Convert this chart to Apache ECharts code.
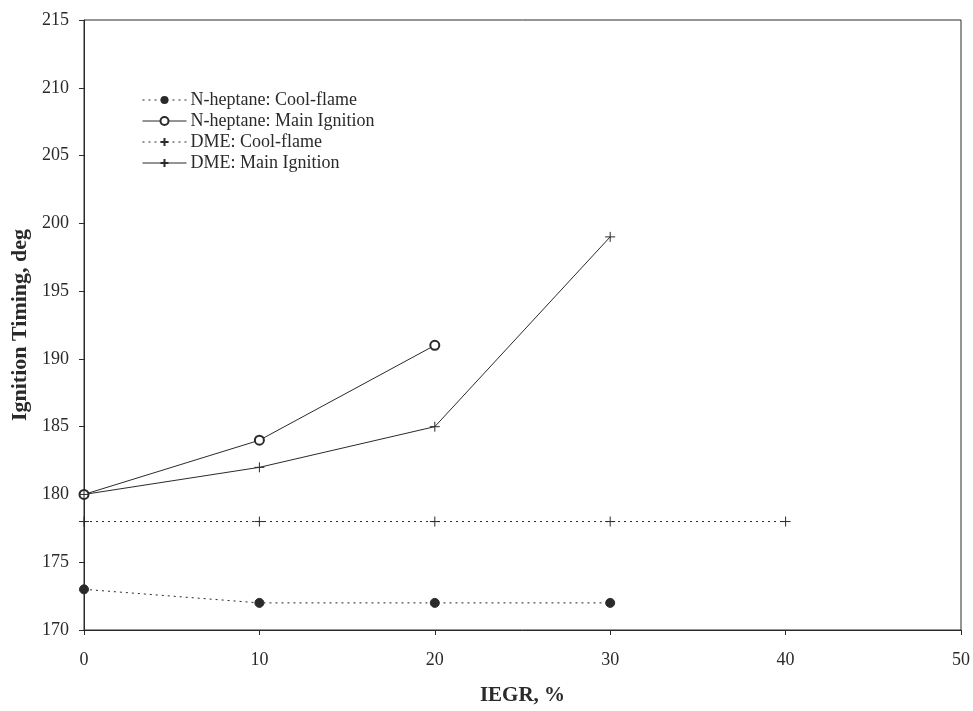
<!DOCTYPE html>
<html><head><meta charset="utf-8">
<script src="https://cdn.jsdelivr.net/npm/echarts@6/dist/echarts.min.js"></script>
<style>html,body{margin:0;padding:0;background:#fff}#c{width:973px;height:711px}</style>
</head><body><div id="c"></div>
<script>
const xTicks = [0, 10, 20, 30, 40, 50];
const nhCoolX = [0, 10, 20, 30];
const nhCoolY = [173, 172, 172, 172];
const nhMainX = [0, 10, 20];
const nhMainY = [180, 184, 191];
const dmeCoolX = [0, 10, 20, 30, 40];
const dmeCoolY = [178, 178, 178, 178, 178];
const dmeMainX = [0, 10, 20, 30];
const dmeMainY = [180, 182, 185, 199];
const names = ['N-heptane: Cool-flame', 'N-heptane: Main Ignition', 'DME: Cool-flame', 'DME: Main Ignition'];

const pair = (xs, ys) => xs.map((x, i) => [x, ys[i]]);
const ink = '#2a2a2a';
const font = 'Liberation Serif';
const cross = 'path://M0,5 L10,5 M5,0 L5,10';

const chart = echarts.init(document.getElementById('c'));
chart.setOption({
  backgroundColor: '#fff',
  animation: false,
  grid: { left: 84, right: 10, top: 20, bottom: 80, show: true, borderColor: ink, borderWidth: 1 },
  legend: {
    left: 137, top: 86, orient: 'vertical', itemGap: 3, itemWidth: 44, itemHeight: 10,
    lineStyle: { width: 1 },
    textStyle: { fontFamily: font, fontSize: 18, color: ink, padding: [0, 0, 0, -1] },
    data: names
  },
  xAxis: {
    type: 'value', min: 0, max: 50, interval: 10,
    name: 'IEGR, %', nameLocation: 'middle', nameGap: 55,
    nameTextStyle: { fontFamily: font, fontSize: 21, fontWeight: 'bold', color: ink },
    axisLine: { lineStyle: { color: ink } },
    axisTick: { show: true, inside: false, length: 5, lineStyle: { color: ink } },
    axisLabel: { fontFamily: font, fontSize: 18, color: ink, margin: 21 },
    splitLine: { show: false }
  },
  yAxis: {
    type: 'value', min: 170, max: 215, interval: 5,
    name: 'Ignition Timing, deg', nameLocation: 'middle', nameGap: 52,
    nameTextStyle: { fontFamily: font, fontSize: 22, fontWeight: 'bold', color: ink },
    axisLine: { lineStyle: { color: ink } },
    axisTick: { show: true, inside: false, length: 5, lineStyle: { color: ink } },
    axisLabel: { fontFamily: font, fontSize: 18, color: ink, margin: 15 },
    splitLine: { show: false }
  },
  series: [
    { name: names[0], type: 'line', data: pair(nhCoolX, nhCoolY), symbol: 'circle', symbolSize: 9,
      lineStyle: { color: ink, width: 1, type: [2, 4] }, itemStyle: { color: ink, borderColor: ink } },
    { name: names[1], type: 'line', data: pair(nhMainX, nhMainY), symbol: 'emptyCircle', symbolSize: 9,
      lineStyle: { color: ink, width: 1 }, itemStyle: { color: ink, borderColor: ink, borderWidth: 1 } },
    { name: names[2], type: 'line', data: pair(dmeCoolX, dmeCoolY), symbol: cross, symbolSize: 10,
      lineStyle: { color: ink, width: 1, type: [2, 4] }, itemStyle: { color: ink, borderColor: ink, borderWidth: 1 } },
    { name: names[3], type: 'line', data: pair(dmeMainX, dmeMainY), symbol: cross, symbolSize: 10,
      lineStyle: { color: ink, width: 1 }, itemStyle: { color: ink, borderColor: ink, borderWidth: 1 } }
  ]
});
</script></body></html>
